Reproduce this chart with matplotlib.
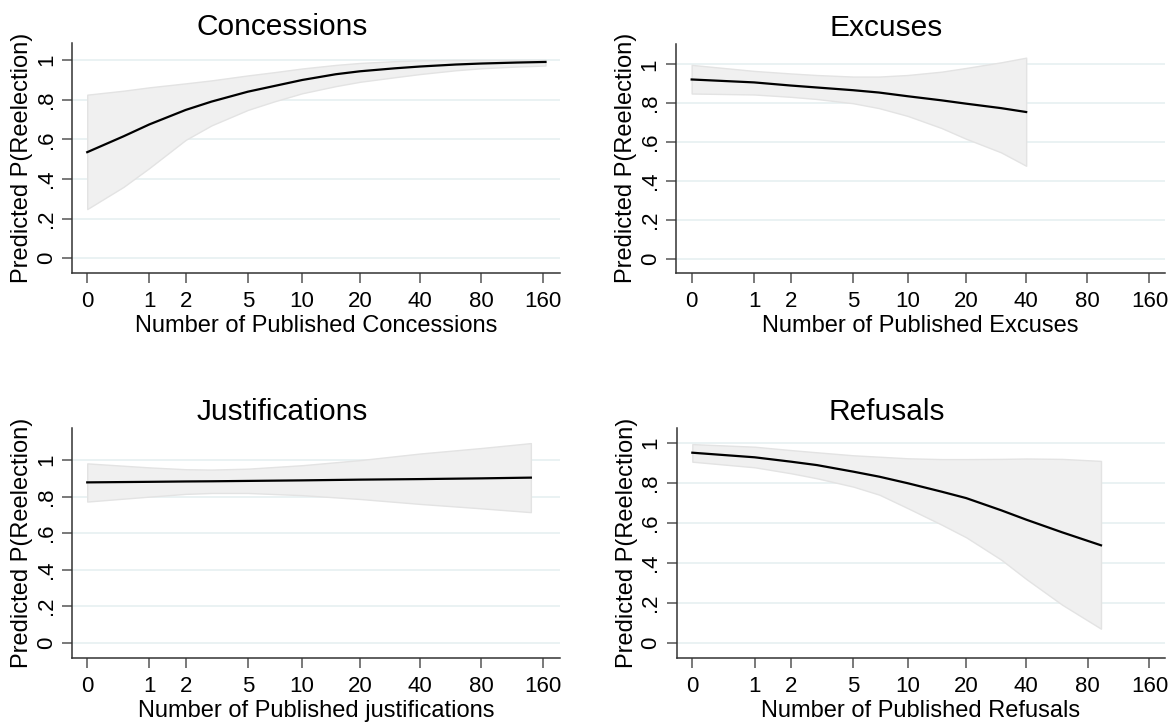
import numpy as np
import matplotlib
matplotlib.use("Agg")
import matplotlib.pyplot as plt

plt.rcParams['font.family'] = ['Liberation Sans', 'DejaVu Sans']

# x tick positions (counts), plotted on a log(count + 1) axis
x_ticks = [0, 1, 2, 5, 10, 20, 40, 80, 160]
y_ticks = [0, 0.2, 0.4, 0.6, 0.8, 1.0]
y_ticklabels = ['0', '.2', '.4', '.6', '.8', '1']

# Concessions
conc_n = [0, 0.5, 1, 2, 3, 5, 7, 10, 15, 20, 30, 40, 60, 80, 120, 165]
conc_fit = [0.535, 0.615, 0.675, 0.748, 0.79, 0.84, 0.868, 0.899, 0.928, 0.943,
            0.958, 0.967, 0.977, 0.982, 0.987, 0.99]
conc_hi = [0.825, 0.845, 0.862, 0.882, 0.897, 0.922, 0.938, 0.957, 0.975, 0.985,
           0.994, 0.998, 1.0, 1.0, 1.0, 1.0]
conc_lo = [0.248, 0.36, 0.455, 0.597, 0.67, 0.748, 0.79, 0.832, 0.868, 0.89,
           0.913, 0.929, 0.948, 0.958, 0.967, 0.972]

# Excuses
exc_n = [0, 1, 2, 3, 5, 7, 10, 15, 20, 30, 40]
exc_fit = [0.922, 0.907, 0.891, 0.881, 0.867, 0.855, 0.836, 0.815, 0.798, 0.775, 0.755]
exc_hi = [0.997, 0.966, 0.953, 0.945, 0.937, 0.937, 0.945, 0.962, 0.981, 1.01, 1.034]
exc_lo = [0.85, 0.845, 0.833, 0.822, 0.80, 0.775, 0.735, 0.673, 0.618, 0.548, 0.479]

# Justifications
jus_n = [0, 1, 2, 3, 5, 10, 20, 40, 80, 140]
jus_fit = [0.878, 0.881, 0.883, 0.884, 0.886, 0.889, 0.893, 0.896, 0.900, 0.904]
jus_hi = [0.982, 0.96, 0.95, 0.948, 0.953, 0.972, 1.0, 1.036, 1.066, 1.093]
jus_lo = [0.773, 0.80, 0.815, 0.82, 0.82, 0.808, 0.787, 0.76, 0.736, 0.715]

# Refusals
ref_n = [0, 1, 2, 3, 5, 7, 10, 15, 20, 30, 40, 60, 93]
ref_fit = [0.950, 0.927, 0.905, 0.888, 0.855, 0.83, 0.797, 0.755, 0.723, 0.662,
           0.615, 0.552, 0.487]
ref_hi = [0.993, 0.98, 0.963, 0.952, 0.937, 0.93, 0.922, 0.918, 0.918, 0.919,
          0.921, 0.919, 0.909]
ref_lo = [0.905, 0.877, 0.847, 0.822, 0.78, 0.74, 0.672, 0.59, 0.527, 0.415,
          0.318, 0.19, 0.07]

panels = [
    ("Concessions", "Number of Published Concessions", conc_n, conc_fit, conc_hi, conc_lo,
     [0.0615, 0.6228, 0.4151, 0.3173], (-0.167, 5.274), (-0.073, 1.084)),
    ("Excuses", "Number of Published Excuses", exc_n, exc_fit, exc_hi, exc_lo,
     [0.5753, 0.6228, 0.4162, 0.3163], (-0.174, 5.255), (-0.07, 1.104)),
    ("Justifications", "Number of Published justifications", jus_n, jus_fit, jus_hi, jus_lo,
     [0.0615, 0.0895, 0.4151, 0.3181], (-0.167, 5.274), (-0.085, 1.174)),
    ("Refusals", "Number of Published Refusals", ref_n, ref_fit, ref_hi, ref_lo,
     [0.5759, 0.0895, 0.4156, 0.3181], (-0.174, 5.255), (-0.078, 1.072)),
]

fig = plt.figure(figsize=(11.75, 7.23), dpi=100)

for title, xlabel, n, fit, hi, lo, rect, xlim, ylim in panels:
    ax = fig.add_axes(rect)
    x = np.log1p(n)
    ax.fill_between(x, lo, hi, facecolor='#f0f0f0', edgecolor='#e3e3e3', lw=1, zorder=2)
    ax.plot(x, fit, color='black', lw=1.6, zorder=3)

    ax.set_xlim(*xlim)
    ax.set_ylim(*ylim)
    ax.set_xticks(np.log1p(x_ticks))
    ax.set_xticklabels([str(t) for t in x_ticks])
    ax.set_yticks(y_ticks)
    ax.set_yticklabels(y_ticklabels, rotation=90, va='center')
    ax.grid(axis='y', color='#eaf2f3', lw=1.4, zorder=1)
    ax.set_axisbelow(True)

    for side in ['top', 'right']:
        ax.spines[side].set_visible(False)
    for side in ['left', 'bottom']:
        ax.spines[side].set_color('#333333')
        ax.spines[side].set_linewidth(1.1)
    ax.tick_params(length=7, width=1.1, color='#555555', labelsize=16, pad=4)
    ax.tick_params(axis='x', pad=6)

    ax.set_xlabel(xlabel, fontsize=17, labelpad=2)
    ax.set_ylabel("Predicted P(Reelection)", fontsize=17, labelpad=2)
    ax.set_title(title, fontsize=21.5, x=0.43, pad=6)

fig.savefig("out.png", dpi=100)
